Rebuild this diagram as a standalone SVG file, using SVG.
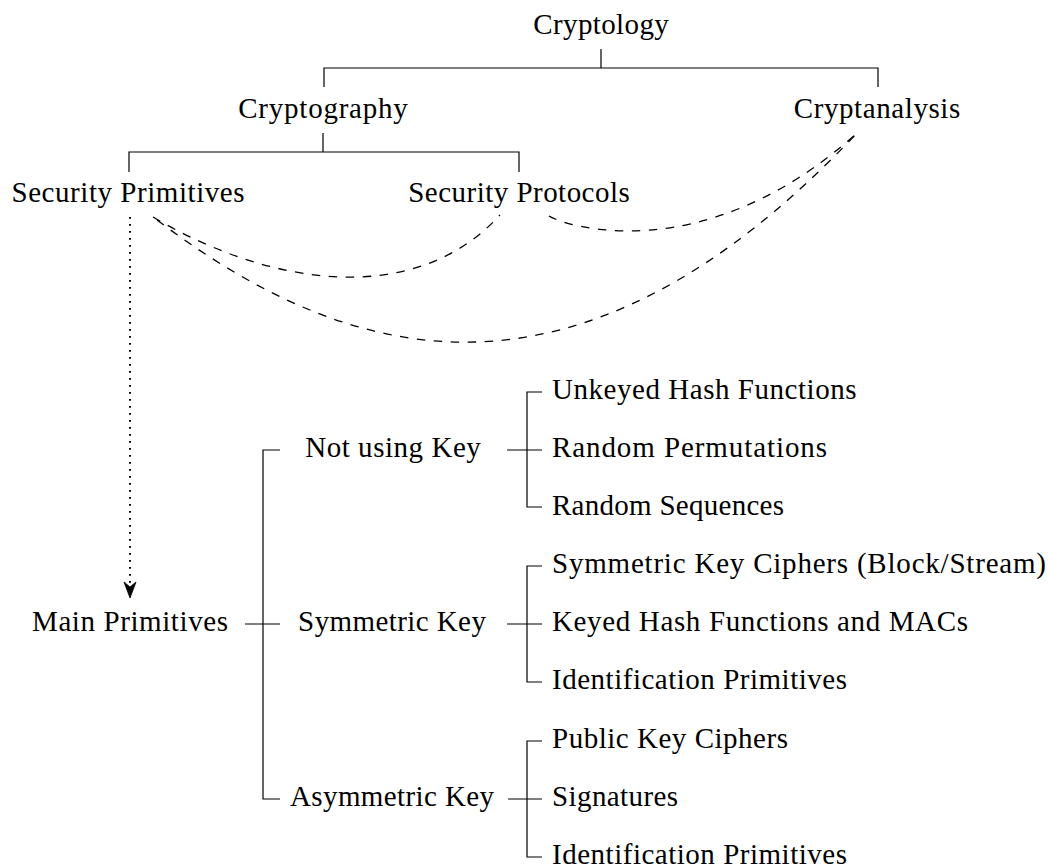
<svg xmlns="http://www.w3.org/2000/svg" width="1049" height="868" viewBox="0 0 1049 868">
<defs>
<style>
text{font-family:"Liberation Serif","Times New Roman",serif;font-size:29px;fill:#000}
.m{text-anchor:middle}
.ln{fill:none;stroke:#000;stroke-width:1.2}
.ds{fill:none;stroke:#000;stroke-width:1.3;stroke-dasharray:8.5 8.5}
.dt{fill:none;stroke:#000;stroke-width:2;stroke-dasharray:1.8 5.2}
</style>
</defs>
<rect width="1049" height="868" fill="#fff"/>
<g id="connectors">
<path class="ln" d="M601,49V68M324,87V68H878V87"/>
<path class="ln" d="M323,133V152M129,172V152H519V172"/>
<path class="ln" d="M280,450H263V799H280M245,624H280"/>
<path class="ln" d="M507,450H542M542,392H527V507H542"/>
<path class="ln" d="M507,624H542M542,566H527V682H542"/>
<path class="ln" d="M508,799H542M542,741H527V857H542"/>
<path class="ds" d="M153,217C264,283 412,311 500,215"/>
<path class="ds" d="M157,220C343,360 572,435 858,132"/>
<path class="ds" d="M549,216C562,225 703,272 857,133"/>
<path class="dt" d="M130,217V586"/>
<path d="M130,598L124,582L130,587L136,582Z" fill="#000" stroke="#000" stroke-width="0.8" stroke-linejoin="round"/>
</g>
<g id="cryptology"><text class="m" x="601" y="34" textLength="135.5">Cryptology</text></g>
<g id="cryptography"><text class="m" x="323" y="118" textLength="169.5">Cryptography</text></g>
<g id="cryptanalysis"><text class="m" x="877" y="118" textLength="166.6">Cryptanalysis</text></g>
<g id="security-primitives"><text class="m" x="128" y="202" textLength="233">Security Primitives</text></g>
<g id="security-protocols"><text class="m" x="519" y="202" textLength="221.5">Security Protocols</text></g>
<g id="main-primitives"><text class="m" x="130" y="631" textLength="196">Main Primitives</text></g>
<g id="not-using-key"><text class="m" x="393" y="457" textLength="175.6">Not using Key</text></g>
<g id="symmetric-key"><text class="m" x="392" y="631" textLength="187.8">Symmetric Key</text></g>
<g id="asymmetric-key"><text class="m" x="392" y="806" textLength="204">Asymmetric Key</text></g>
<g id="unkeyed-hash"><text x="552" y="398.5" textLength="304.6">Unkeyed Hash Functions</text></g>
<g id="random-permutations"><text x="552" y="456.5" textLength="275">Random Permutations</text></g>
<g id="random-sequences"><text x="552" y="514.5" textLength="232">Random Sequences</text></g>
<g id="symmetric-ciphers"><text x="552" y="573" textLength="494">Symmetric Key Ciphers (Block/Stream)</text></g>
<g id="keyed-hash"><text x="552" y="631" textLength="416">Keyed Hash Functions and MACs</text></g>
<g id="identification-sym"><text x="552" y="689" textLength="295">Identification Primitives</text></g>
<g id="public-key-ciphers"><text x="552" y="748" textLength="236">Public Key Ciphers</text></g>
<g id="signatures"><text x="552" y="806" textLength="126">Signatures</text></g>
<g id="identification-asym"><text x="552" y="864" textLength="295">Identification Primitives</text></g>
</svg>
